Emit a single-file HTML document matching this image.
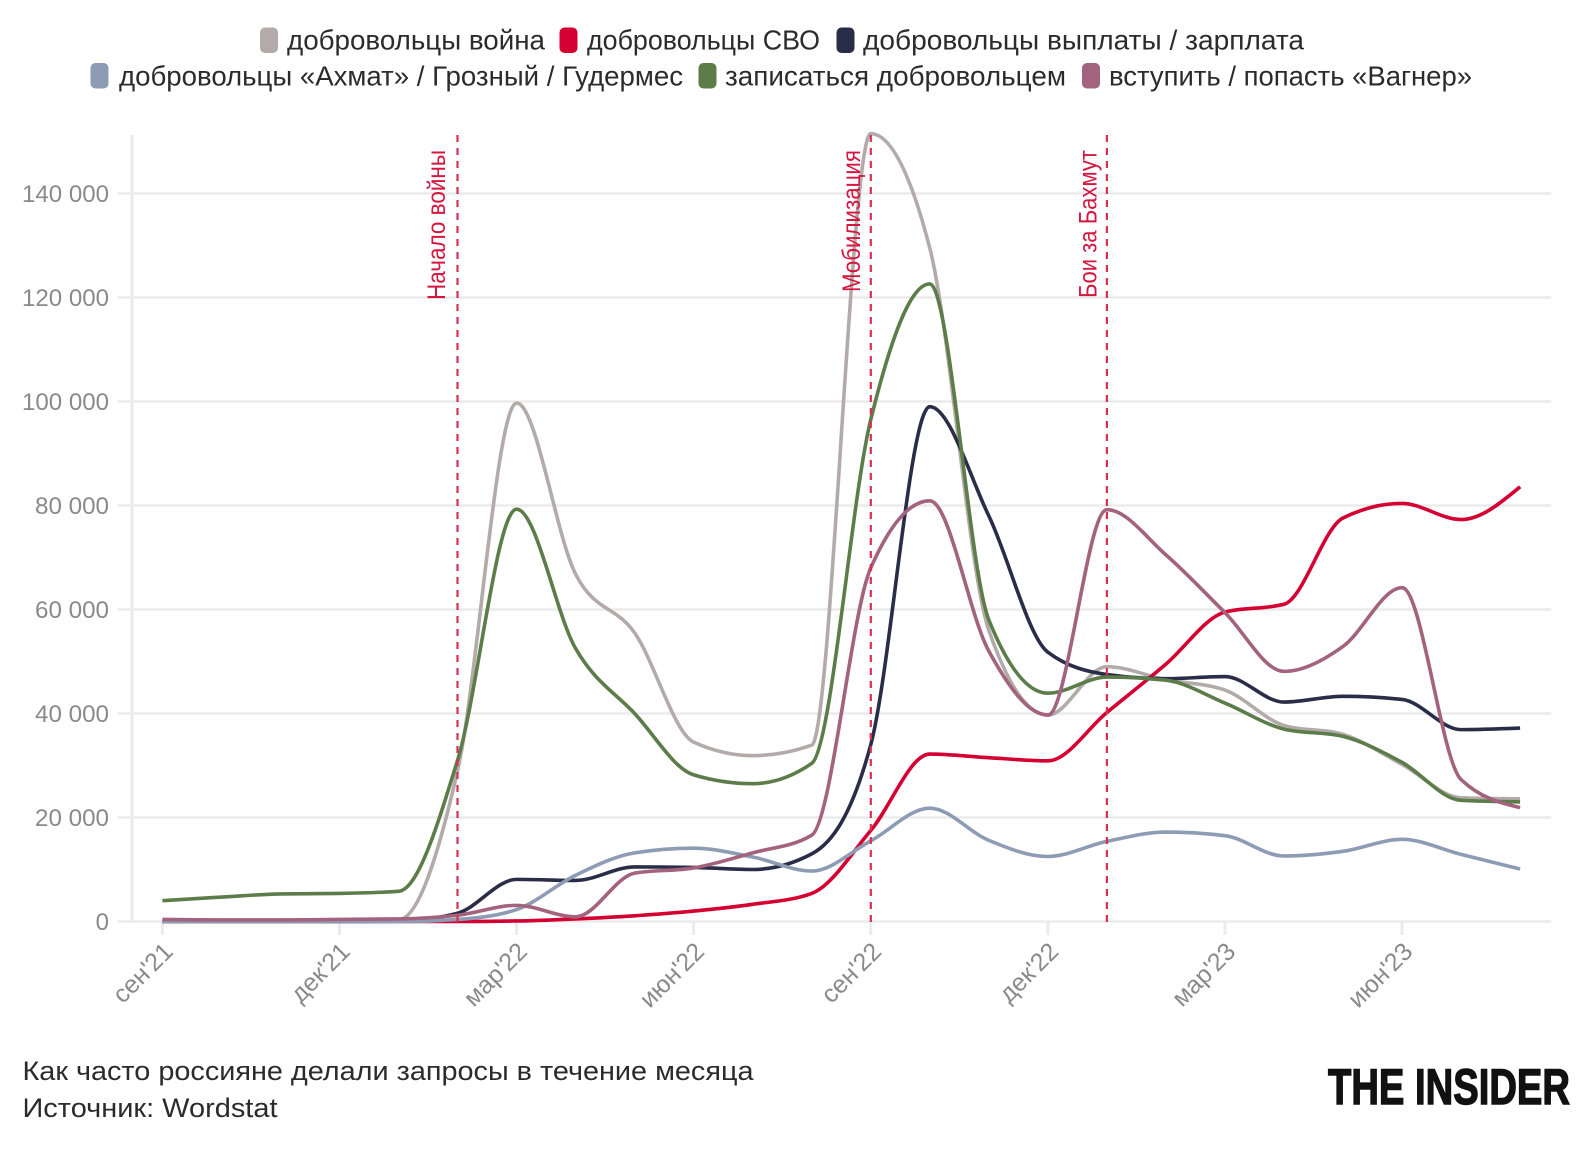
<!DOCTYPE html>
<html>
<head>
<meta charset="utf-8">
<style>
  html,body{margin:0;padding:0;background:#fff;}
  svg{display:block;}
  text{font-family:"Liberation Sans","Noto Sans CJK SC",sans-serif;}
</style>
</head>
<body>
<svg id="chart" width="1592" height="1150" viewBox="0 0 1592 1150" xmlns="http://www.w3.org/2000/svg">
  <rect x="0" y="0" width="1592" height="1150" fill="#fff"/>

  <!-- Legend row 1 -->
  <rect x="260" y="27.5" width="18" height="25.5" rx="5" fill="#b3aba9"/>
  <text x="287" y="49.5" font-size="28" fill="#2b2b2b" textLength="258" lengthAdjust="spacingAndGlyphs">добровольцы война</text>
  <rect x="559.5" y="27.5" width="18" height="25.5" rx="5" fill="#d50032"/>
  <text x="587" y="49.5" font-size="28" fill="#2b2b2b" textLength="233" lengthAdjust="spacingAndGlyphs">добровольцы СВО</text>
  <rect x="836.5" y="27.5" width="18" height="25.5" rx="5" fill="#2a2d47"/>
  <text x="863" y="49.5" font-size="28" fill="#2b2b2b" textLength="441" lengthAdjust="spacingAndGlyphs">добровольцы выплаты / зарплата</text>

  <!-- Legend row 2 -->
  <rect x="90.5" y="63" width="18" height="25.5" rx="5" fill="#8d9bb5"/>
  <text x="119" y="85.5" font-size="28" fill="#2b2b2b" textLength="564" lengthAdjust="spacingAndGlyphs">добровольцы «Ахмат» / Грозный / Гудермес</text>
  <rect x="698.5" y="63" width="18" height="25.5" rx="5" fill="#5c7d4a"/>
  <text x="725" y="85.5" font-size="28" fill="#2b2b2b" textLength="341" lengthAdjust="spacingAndGlyphs">записаться добровольцем</text>
  <rect x="1082" y="63" width="18" height="25.5" rx="5" fill="#a3627d"/>
  <text x="1109" y="85.5" font-size="28" fill="#2b2b2b" textLength="363" lengthAdjust="spacingAndGlyphs">вступить / попасть «Вагнер»</text>

  <!-- Gridlines -->
  <g stroke="#ebebeb" stroke-width="2.6">
    <line x1="118" y1="193.5" x2="1551" y2="193.5"/>
    <line x1="118" y1="297.5" x2="1551" y2="297.5"/>
    <line x1="118" y1="401.5" x2="1551" y2="401.5"/>
    <line x1="118" y1="505.5" x2="1551" y2="505.5"/>
    <line x1="118" y1="609.5" x2="1551" y2="609.5"/>
    <line x1="118" y1="713.5" x2="1551" y2="713.5"/>
    <line x1="118" y1="817.5" x2="1551" y2="817.5"/>
    <line x1="118" y1="921.5" x2="1551" y2="921.5"/>
  </g>
  <line x1="132" y1="135" x2="132" y2="922" stroke="#ebebeb" stroke-width="3"/>

  <!-- X ticks -->
  <g stroke="#ebebeb" stroke-width="3" id="xticks"></g>

  <!-- Y labels -->
  <g font-size="24" fill="#8a8a8a" text-anchor="end">
    <text x="109" y="202" textLength="87" lengthAdjust="spacingAndGlyphs">140 000</text>
    <text x="109" y="306" textLength="87" lengthAdjust="spacingAndGlyphs">120 000</text>
    <text x="109" y="410" textLength="87" lengthAdjust="spacingAndGlyphs">100 000</text>
    <text x="109" y="514" textLength="74" lengthAdjust="spacingAndGlyphs">80 000</text>
    <text x="109" y="618" textLength="74" lengthAdjust="spacingAndGlyphs">60 000</text>
    <text x="109" y="722" textLength="74" lengthAdjust="spacingAndGlyphs">40 000</text>
    <text x="109" y="826" textLength="74" lengthAdjust="spacingAndGlyphs">20 000</text>
    <text x="109" y="930">0</text>
  </g>

  <!-- X labels -->
  <g font-size="25" fill="#8a8a8a" text-anchor="end">
    <text transform="translate(174.4,953) rotate(-45)">сен'21</text>
    <text transform="translate(351.5,953) rotate(-45)">дек'21</text>
    <text transform="translate(528.6,953) rotate(-45)">мар'22</text>
    <text transform="translate(705.7,953) rotate(-45)">июн'22</text>
    <text transform="translate(882.8,953) rotate(-45)">сен'22</text>
    <text transform="translate(1059.9,953) rotate(-45)">дек'22</text>
    <text transform="translate(1237,953) rotate(-45)">мар'23</text>
    <text transform="translate(1414.1,953) rotate(-45)">июн'23</text>
  </g>

  <!-- Series -->
  <g id="series" fill="none" stroke-width="3.6" stroke-linejoin="round"></g>

  <!-- Event lines -->
  <g stroke="#d9304f" stroke-width="2.2" stroke-dasharray="7 6">
    <line x1="457.5" y1="135" x2="457.5" y2="922"/>
    <line x1="870.8" y1="135" x2="870.8" y2="922"/>
    <line x1="1106.9" y1="135" x2="1106.9" y2="922"/>
  </g>
  <g font-size="25" fill="#d5163f" text-anchor="end">
    <text transform="translate(445,150) rotate(-90)" textLength="150" lengthAdjust="spacingAndGlyphs">Начало войны</text>
    <text transform="translate(860,150) rotate(-90)" textLength="142" lengthAdjust="spacingAndGlyphs">Мобилизация</text>
    <text transform="translate(1096.5,150) rotate(-90)" textLength="148" lengthAdjust="spacingAndGlyphs">Бои за Бахмут</text>
  </g>

  <!-- Caption -->
  <text x="22.5" y="1080" font-size="27" fill="#2b2b2b" textLength="731" lengthAdjust="spacingAndGlyphs">Как часто россияне делали запросы в течение месяца</text>
  <text x="22.5" y="1117" font-size="27" fill="#2b2b2b" textLength="255" lengthAdjust="spacingAndGlyphs">Источник: Wordstat</text>

  <!-- Logo -->
  <text x="1328" y="1104" font-size="50" font-weight="bold" fill="#111" stroke="#111" stroke-width="1.4" textLength="242" lengthAdjust="spacingAndGlyphs">THE INSIDER</text>
</svg>

<script>
(function(){
  var NS="http://www.w3.org/2000/svg";
  var X0=162.4, DX=59.03, Y0=921.5, KY=5.2;
  var ticks=document.getElementById('xticks');
  for(var m=0;m<=21;m+=3){
    var l=document.createElementNS(NS,'line');
    var x=X0+DX*m;
    l.setAttribute('x1',x);l.setAttribute('x2',x);
    l.setAttribute('y1',922);l.setAttribute('y2',935);
    ticks.appendChild(l);
  }
  var series=[
    {c:'#b3aba9', d:[0.1,0.1,0.1,0.1,0.3,29,99.7,66.8,55.5,34.5,31.9,33.9,151.5,129.5,56,39.7,49,46.5,44.5,37.7,36,30.2,23.8,23.6]},
    {c:'#d50032', d:[0,0,0,0,0,0,0.1,0.5,1.1,2.0,3.3,5.4,17.5,32.2,31.5,30.9,40.2,49.5,59.5,61,77.6,80.4,77.3,83.6]},
    {c:'#2a2d47', d:[0,0,0,0,0.1,1.6,8.1,7.9,10.5,10.4,10,13,34,99,78,51.8,47.5,46.7,47.1,42.2,43.3,42.7,36.9,37.2]},
    {c:'#8d9bb5', d:[0,0,0,0,0,0.4,2.3,8.9,13.2,14.1,12.4,9.7,15.5,21.8,15.6,12.5,15.4,17.2,16.5,12.6,13.5,15.8,12.9,10.1]},
    {c:'#5c7d4a', d:[4.0,4.7,5.3,5.4,5.8,31,79.3,52.5,40,28.2,26.5,30.4,96.5,122.6,58,43.9,47,46.4,42,37,35.6,30.6,23.3,23]},
    {c:'#a3627d', d:[0.4,0.3,0.3,0.4,0.5,1.2,3.1,0.9,9.3,10.3,13.2,16.6,68,80.9,52,39.7,79.2,70.5,59.4,48.1,52.9,64.2,27.3,21.9]}
  ];
  function sign(v){return v<0?-1:(v>0?1:0);}
  function mono(p){
    var n=p.length, s=[], t=[], i;
    for(i=0;i<n-1;i++) s.push((p[i+1][1]-p[i][1])/(p[i+1][0]-p[i][0]));
    for(i=1;i<n-1;i++){
      var h0=p[i][0]-p[i-1][0], h1=p[i+1][0]-p[i][0];
      var s0=s[i-1], s1=s[i];
      var pp=(s0*h1+s1*h0)/(h0+h1);
      t[i]=(sign(s0)+sign(s1))*Math.min(Math.abs(s0),Math.abs(s1),0.5*Math.abs(pp))||0;
    }
    t[0]=(3*s[0]-t[1])/2;
    t[n-1]=(3*s[n-2]-t[n-2])/2;
    var d='M'+p[0][0].toFixed(2)+','+p[0][1].toFixed(2);
    for(i=0;i<n-1;i++){
      var dx=(p[i+1][0]-p[i][0])/3;
      d+='C'+(p[i][0]+dx).toFixed(2)+','+(p[i][1]+dx*t[i]).toFixed(2)+','+
           (p[i+1][0]-dx).toFixed(2)+','+(p[i+1][1]-dx*t[i+1]).toFixed(2)+','+
           p[i+1][0].toFixed(2)+','+p[i+1][1].toFixed(2);
    }
    return d;
  }
  var g=document.getElementById('series');
  series.forEach(function(sr){
    var pts=sr.d.map(function(v,i){return [X0+DX*i, Y0-v*KY];});
    var path=document.createElementNS(NS,'path');
    path.setAttribute('d',mono(pts));
    path.setAttribute('stroke',sr.c);
    g.appendChild(path);
  });
})();
</script>
</body>
</html>
